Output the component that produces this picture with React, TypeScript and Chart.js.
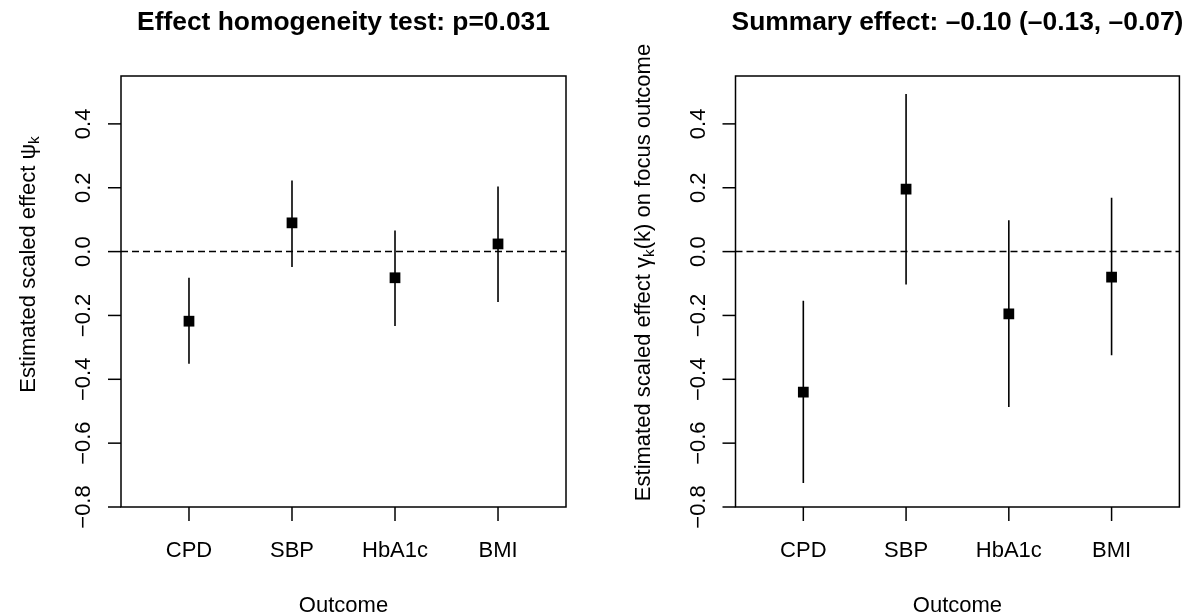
import React, { useEffect, useRef } from "react";
import { Chart, registerables } from "chart.js";

Chart.register(...registerables);

// ---------- data ----------
const categories = ["CPD", "SBP", "HbA1c", "BMI"];
const categoryPositions = [1, 2, 3, 4];

const leftEstimate = [-0.218, 0.09, -0.082, 0.024];
const leftLower = [-0.351, -0.048, -0.233, -0.158];
const leftUpper = [-0.082, 0.223, 0.066, 0.204];

const rightEstimate = [-0.44, 0.196, -0.195, -0.08];
const rightLower = [-0.725, -0.103, -0.487, -0.325];
const rightUpper = [-0.154, 0.494, 0.098, 0.169];

const yTickValues = [-0.8, -0.6, -0.4, -0.2, 0.0, 0.2, 0.4];
const yTickLabels = ["\u22120.8", "\u22120.6", "\u22120.4", "\u22120.2", "0.0", "0.2", "0.4"];

const leftTitle = "Effect homogeneity test: p=0.031";
const rightTitle = "Summary effect: \u20130.10 (\u20130.13, \u20130.07)";
const xAxisTitle = "Outcome";
// y titles: [text before greek, greek letter, subscript, text after]
const leftYTitle = ["Estimated scaled effect ", "\u03c8", "k", ""];
const rightYTitle = ["Estimated scaled effect ", "\u03b3", "k", "(k) on focus outcome"];

const Y_MIN = -0.8;
const Y_MAX = 0.55;
const X_MIN = 0.34;
const X_MAX = 4.66;

const FONT = '"Liberation Sans", Arial, Helvetica, sans-serif';

type PanelSpec = {
  est: number[];
  lo: number[];
  hi: number[];
  title: string;
  yTitle: string[];
  yTitleShift: number;
  padding: { left: number; right: number; top: number; bottom: number };
};

function buildConfig(spec: PanelSpec): any {
  const ciSets = categoryPositions.map((xv, i) => ({
    type: "line",
    data: [
      { x: xv, y: spec.lo[i] },
      { x: xv, y: spec.hi[i] },
    ],
    borderColor: "#000",
    borderWidth: 1.6,
    pointRadius: 0,
    fill: false,
    order: 2,
  }));

  const pointSet = {
    type: "scatter",
    data: categoryPositions.map((xv, i) => ({ x: xv, y: spec.est[i] })),
    pointStyle: "rect",
    pointRadius: 7.6,
    pointBorderWidth: 0,
    borderWidth: 0,
    backgroundColor: "#000",
    pointBackgroundColor: "#000",
    order: 0,
  };

  const decor = {
    id: "rdecor",
    beforeDatasetsDraw(chart: any) {
      const { ctx, chartArea } = chart;
      const { left, right } = chartArea;
      const y = chart.scales.y;
      const y0 = y.getPixelForValue(0);
      ctx.save();
      ctx.strokeStyle = "#000";
      ctx.lineWidth = 1.5;
      ctx.setLineDash([7, 4]);
      ctx.beginPath();
      ctx.moveTo(left, y0);
      ctx.lineTo(right, y0);
      ctx.stroke();
      ctx.restore();
    },
    afterDraw(chart: any) {
      const { ctx, chartArea } = chart;
      const { left, right, top, bottom } = chartArea;
      const xs = chart.scales.x;
      const ys = chart.scales.y;
      ctx.save();
      ctx.strokeStyle = "#000";
      ctx.fillStyle = "#000";
      ctx.lineWidth = 1.5;
      ctx.setLineDash([]);
      // box
      ctx.strokeRect(left, top, right - left, bottom - top);

      // y ticks
      ctx.font = `22px ${FONT}`;
      yTickValues.forEach((v, i) => {
        const py = ys.getPixelForValue(v);
        ctx.beginPath();
        ctx.moveTo(left - 13, py);
        ctx.lineTo(left, py);
        ctx.stroke();
        ctx.save();
        ctx.translate(left - 31, py);
        ctx.rotate(-Math.PI / 2);
        ctx.textAlign = "center";
        ctx.textBaseline = "alphabetic";
        ctx.fillText(yTickLabels[i], 0, 0);
        ctx.restore();
      });

      // x ticks
      categoryPositions.forEach((xv, i) => {
        const px = xs.getPixelForValue(xv);
        ctx.beginPath();
        ctx.moveTo(px, bottom);
        ctx.lineTo(px, bottom + 14);
        ctx.stroke();
        ctx.textAlign = "center";
        ctx.textBaseline = "alphabetic";
        ctx.fillText(categories[i], px, 557);
      });

      const cx = (left + right) / 2;
      // x title
      ctx.textAlign = "center";
      ctx.fillText(xAxisTitle, cx, 612);

      // main title
      ctx.font = `bold 26.4px ${FONT}`;
      ctx.fillText(spec.title, cx, 30);

      // y title with subscript
      const [pre, greek, sub, post] = spec.yTitle;
      const mainFont = `22px ${FONT}`;
      const subFont = `15.4px ${FONT}`;
      ctx.font = mainFont;
      const wPre = ctx.measureText(pre).width;
      const wGreek = ctx.measureText(greek).width;
      const wPost = ctx.measureText(post).width;
      ctx.font = subFont;
      const wSub = ctx.measureText(sub).width;
      const total = wPre + wGreek + wSub + wPost;
      const cy = (top + bottom) / 2 + spec.yTitleShift;
      ctx.save();
      ctx.translate(left - 86, cy);
      ctx.rotate(-Math.PI / 2);
      ctx.textAlign = "left";
      ctx.textBaseline = "alphabetic";
      let pos = -total / 2;
      ctx.font = mainFont;
      ctx.fillText(pre, pos, 0);
      pos += wPre;
      ctx.fillText(greek, pos, 0);
      pos += wGreek;
      ctx.font = subFont;
      ctx.fillText(sub, pos, 4);
      pos += wSub;
      ctx.font = mainFont;
      ctx.fillText(post, pos, 0);
      ctx.restore();

      ctx.restore();
    },
  };

  return {
    type: "scatter",
    data: { datasets: [pointSet, ...ciSets] },
    options: {
      animation: false,
      responsive: false,
      events: [],
      layout: { padding: spec.padding },
      plugins: {
        legend: { display: false },
        tooltip: { enabled: false },
        title: { display: false },
      },
      scales: {
        x: { type: "linear", min: X_MIN, max: X_MAX, display: false },
        y: { type: "linear", min: Y_MIN, max: Y_MAX, display: false },
      },
    },
    plugins: [decor],
  };
}

export default function App() {
  const leftRef = useRef<HTMLCanvasElement | null>(null);
  const rightRef = useRef<HTMLCanvasElement | null>(null);

  useEffect(() => {
    const charts: Chart[] = [];
    if (leftRef.current) {
      charts.push(
        new Chart(
          leftRef.current,
          buildConfig({
            est: leftEstimate,
            lo: leftLower,
            hi: leftUpper,
            title: leftTitle,
            yTitle: leftYTitle,
            yTitleShift: -27,
            padding: { left: 121, right: 1187 - 566, top: 76, bottom: 613 - 507 },
          })
        )
      );
    }
    if (rightRef.current) {
      charts.push(
        new Chart(
          rightRef.current,
          buildConfig({
            est: rightEstimate,
            lo: rightLower,
            hi: rightUpper,
            title: rightTitle,
            yTitle: rightYTitle,
            yTitleShift: -19,
            padding: { left: 735.5, right: 1187 - 1180.5, top: 76, bottom: 613 - 507 },
          })
        )
      );
    }
    return () => charts.forEach((c) => c.destroy());
  }, []);

  const canvasStyle: React.CSSProperties = {
    position: "absolute",
    left: 0,
    top: 0,
    width: 1187,
    height: 613,
  };

  return (
    <div
      style={{
        position: "fixed",
        left: 0,
        top: 0,
        width: 1187,
        height: 613,
        background: "#fff",
      }}
    >
      <canvas ref={leftRef} width={1187} height={613} style={canvasStyle} />
      <canvas ref={rightRef} width={1187} height={613} style={canvasStyle} />
    </div>
  );
}
